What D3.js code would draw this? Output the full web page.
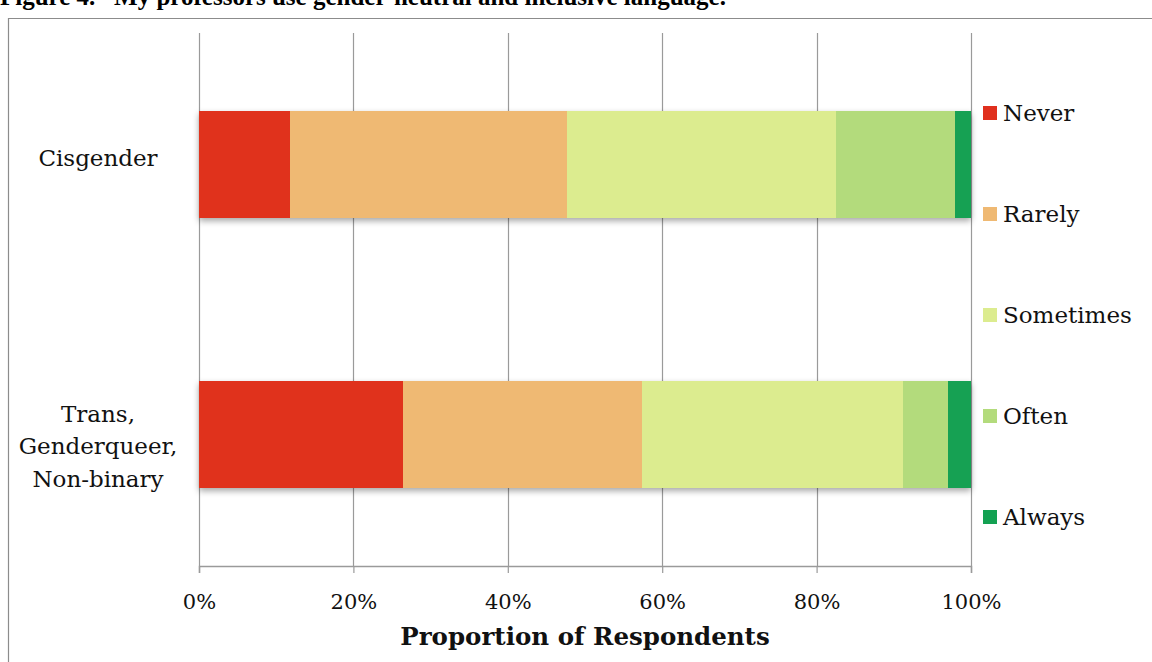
<!DOCTYPE html>
<html>
<head>
<meta charset="utf-8">
<script src="https://cdn.jsdelivr.net/npm/d3@7"></script>
<style>
  body { margin: 0; background: #fff; }
  svg { display: block; }
</style>
</head>
<body>
<script>
(function () {
  'use strict';

  // groups, top to bottom
  const groups = ['Cisgender', 'Trans, Genderqueer, Non-binary'];
  const groupLines = [['Cisgender'], ['Trans,', 'Genderqueer,', 'Non-binary']];

  // answers, left to right
  const answers = ['Never', 'Rarely', 'Sometimes', 'Often', 'Always'];
  const colors = ['#e0301e', '#efb973', '#dcec8f', '#b3db7c', '#13a152'];

  // percent of respondents per answer, per group
  const cisValues = [11.8, 35.9, 34.8, 15.4, 2.1];
  const transValues = [26.4, 31.0, 33.8, 5.8, 3.0];
  const values = [cisValues, transValues];

  const xTicks = [0, 20, 40, 60, 80, 100];

  const W = 1152, H = 662;
  const plot = { left: 199, right: 971, top: 33, bottom: 566 };
  const serif = '"DejaVu Serif", serif';

  const svg = d3.select('body')
    .append('svg')
    .attr('width', W)
    .attr('height', H);

  const defs = svg.append('defs');
  defs.append('filter')
    .attr('id', 'shadow')
    .attr('x', '-5%').attr('y', '-20%')
    .attr('width', '110%').attr('height', '150%')
    .append('feDropShadow')
    .attr('dx', 0).attr('dy', 3)
    .attr('stdDeviation', 3)
    .attr('flood-color', '#000')
    .attr('flood-opacity', 0.35);

  // title (top of it lies above the page, as in the source)
  svg.append('text')
    .attr('x', 0)
    .attr('y', 5)
    .attr('font-family', '"Liberation Serif", serif')
    .attr('font-weight', 'bold')
    .attr('font-size', '25px')
    .attr('xml:space', 'preserve')
    .text('Figure 4.   My professors use gender-neutral and inclusive language.');

  // frame
  svg.append('path')
    .attr('d', `M8.5,${H} V18.5 H${W}`)
    .attr('fill', 'none')
    .attr('stroke', '#8c8c8c')
    .attr('stroke-width', 1.2);

  const x = d3.scaleLinear()
    .domain([0, 100])
    .range([plot.left, plot.right]);

  const y = d3.scaleBand()
    .domain(groups)
    .range([plot.top, plot.bottom])
    .paddingInner(0.605)
    .paddingOuter(0.29);

  // grid
  svg.append('g')
    .attr('class', 'grid')
    .selectAll('line')
    .data(xTicks)
    .enter()
    .append('line')
    .attr('x1', d => Math.round(x(d)) + 0.5)
    .attr('x2', d => Math.round(x(d)) + 0.5)
    .attr('y1', plot.top)
    .attr('y2', plot.bottom)
    .attr('stroke', '#9a9a9a')
    .attr('stroke-width', 1.2);

  // bars
  const rows = groups.map((g, i) => {
    let acc = 0;
    return values[i].map((v, j) => {
      const seg = { group: g, answer: answers[j], x0: acc, x1: acc + v, color: colors[j] };
      acc += v;
      return seg;
    });
  });

  svg.append('g')
    .selectAll('g')
    .data(rows)
    .enter()
    .append('g')
    .attr('filter', 'url(#shadow)')
    .selectAll('rect')
    .data(d => d)
    .enter()
    .append('rect')
    .attr('x', d => x(d.x0))
    .attr('width', d => x(d.x1) - x(d.x0))
    .attr('y', d => y(d.group))
    .attr('height', y.bandwidth())
    .attr('fill', d => d.color)
    .attr('shape-rendering', 'crispEdges');

  // x axis
  const xAxis = d3.axisBottom(x)
    .tickValues(xTicks)
    .tickSize(7)
    .tickFormat(d => d + '%');

  const axG = svg.append('g')
    .attr('transform', `translate(0,${plot.bottom})`)
    .call(xAxis);
  axG.select('.domain').attr('stroke', '#9a9a9a').attr('stroke-width', 1.5);
  axG.selectAll('.tick line').attr('stroke', '#9a9a9a').attr('stroke-width', 1.2);
  axG.selectAll('.tick text')
    .attr('dy', 0)
    .attr('y', 43)
    .attr('fill', '#111')
    .attr('font-family', serif)
    .attr('font-size', '21px');

  svg.append('text')
    .attr('x', (plot.left + plot.right) / 2)
    .attr('y', 645)
    .attr('text-anchor', 'middle')
    .attr('font-family', serif)
    .attr('font-weight', 'bold')
    .attr('font-size', '24.5px')
    .attr('fill', '#111')
    .text('Proportion of Respondents');

  // group labels
  const labelShift = [1, 20];
  const lineGap = 32.5;
  const lab = svg.append('g')
    .selectAll('text')
    .data(groups)
    .enter()
    .append('text')
    .attr('text-anchor', 'middle')
    .attr('font-family', serif)
    .attr('font-size', '23px')
    .attr('fill', '#111')
    .attr('x', 98)
    .attr('y', (d, i) => y(d) + y.bandwidth() / 2 + labelShift[i] - (groupLines[i].length - 1) * lineGap / 2);
  lab.selectAll('tspan')
    .data((d, i) => groupLines[i])
    .enter()
    .append('tspan')
    .attr('x', 98)
    .attr('dy', (d, i) => i === 0 ? 0 : lineGap)
    .text(d => d);

  // legend
  const legend = svg.append('g')
    .selectAll('g')
    .data(answers)
    .enter()
    .append('g')
    .attr('transform', (d, i) => `translate(983,${113 + i * 101})`);
  legend.append('rect')
    .attr('x', 0).attr('y', -7)
    .attr('width', 14).attr('height', 14)
    .attr('fill', (d, i) => colors[i]);
  legend.append('text')
    .attr('x', 20)
    .attr('y', 8)
    .attr('font-family', serif)
    .attr('font-size', '23px')
    .attr('fill', '#111')
    .text(d => d);
})();
</script>
</body>
</html>
